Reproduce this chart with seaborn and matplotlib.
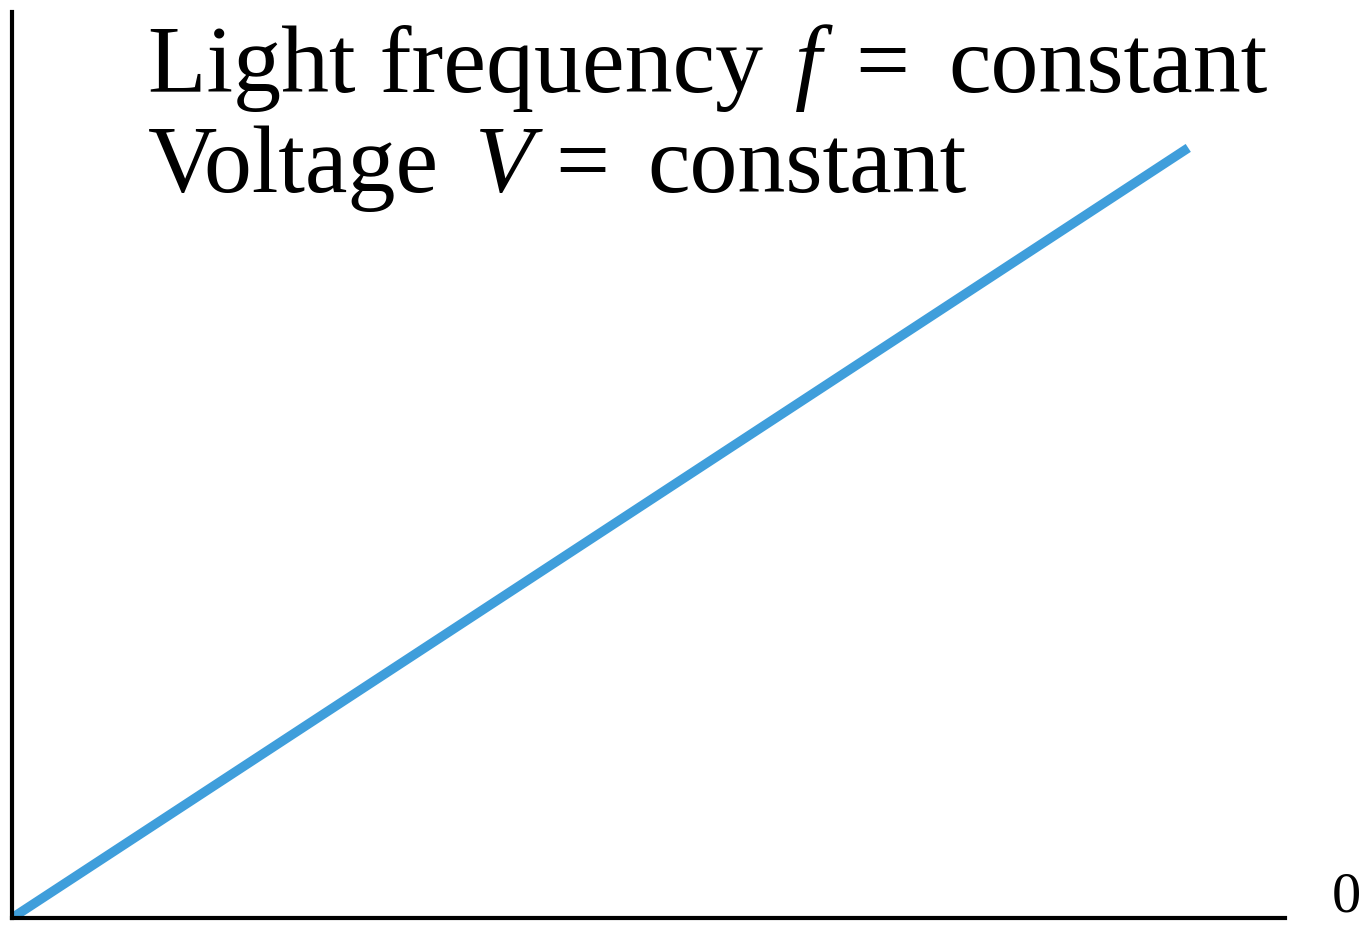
import matplotlib
matplotlib.use("Agg")
import matplotlib.pyplot as plt
import seaborn as sns
import pandas as pd

# Photocurrent vs. light intensity (arbitrary units)
intensity = [0.0, 0.924]
current = [0.0, 0.85]
caption_line1 = ["Light frequency", "$f$", "=", "constant"]
caption_line2 = ["Voltage", "$V$", "=", "constant"]
origin_label = "0"

sns.set_theme(style="white")
plt.rcParams["font.family"] = ["Liberation Serif", "DejaVu Serif"]
plt.rcParams["mathtext.fontset"] = "custom"
plt.rcParams["mathtext.rm"] = "Liberation Serif"
plt.rcParams["mathtext.it"] = "Liberation Serif:italic"

W, H = 1365, 926
fig = plt.figure(figsize=(W / 100, H / 100), dpi=100)
ax = fig.add_axes([12 / W, 8 / H, (1285 - 12) / W, (918 - 12) / H])

df = pd.DataFrame({"intensity": intensity, "current": current})
sns.lineplot(data=df, x="intensity", y="current", ax=ax,
             color="#3f9edb", linewidth=6.8, solid_capstyle="butt")

ax.set_xlim(0, 1)
ax.set_ylim(0, 1)
ax.set_xticks([])
ax.set_yticks([])
ax.set_xlabel("")
ax.set_ylabel("")
for side in ("top", "right"):
    ax.spines[side].set_visible(False)
for side in ("left", "bottom"):
    ax.spines[side].set_color("black")
    ax.spines[side].set_linewidth(3)

# Caption, word groups laid out along two baselines
line1_x = [148, 794, 855, 948]
line2_x = [148, 474, 555, 647]
for words, xs, base in ((caption_line1, line1_x, 92), (caption_line2, line2_x, 192)):
    for word, x in zip(words, xs):
        fig.text(x / W, 1 - base / H, word, fontsize=69,
                 color="black", ha="left", va="baseline")

# Origin label at the end of the horizontal axis
fig.text(1332 / W, 1 - 912 / H, origin_label, fontsize=42,
         color="black", ha="left", va="baseline")

fig.savefig("out.png", dpi=100, facecolor="white")
